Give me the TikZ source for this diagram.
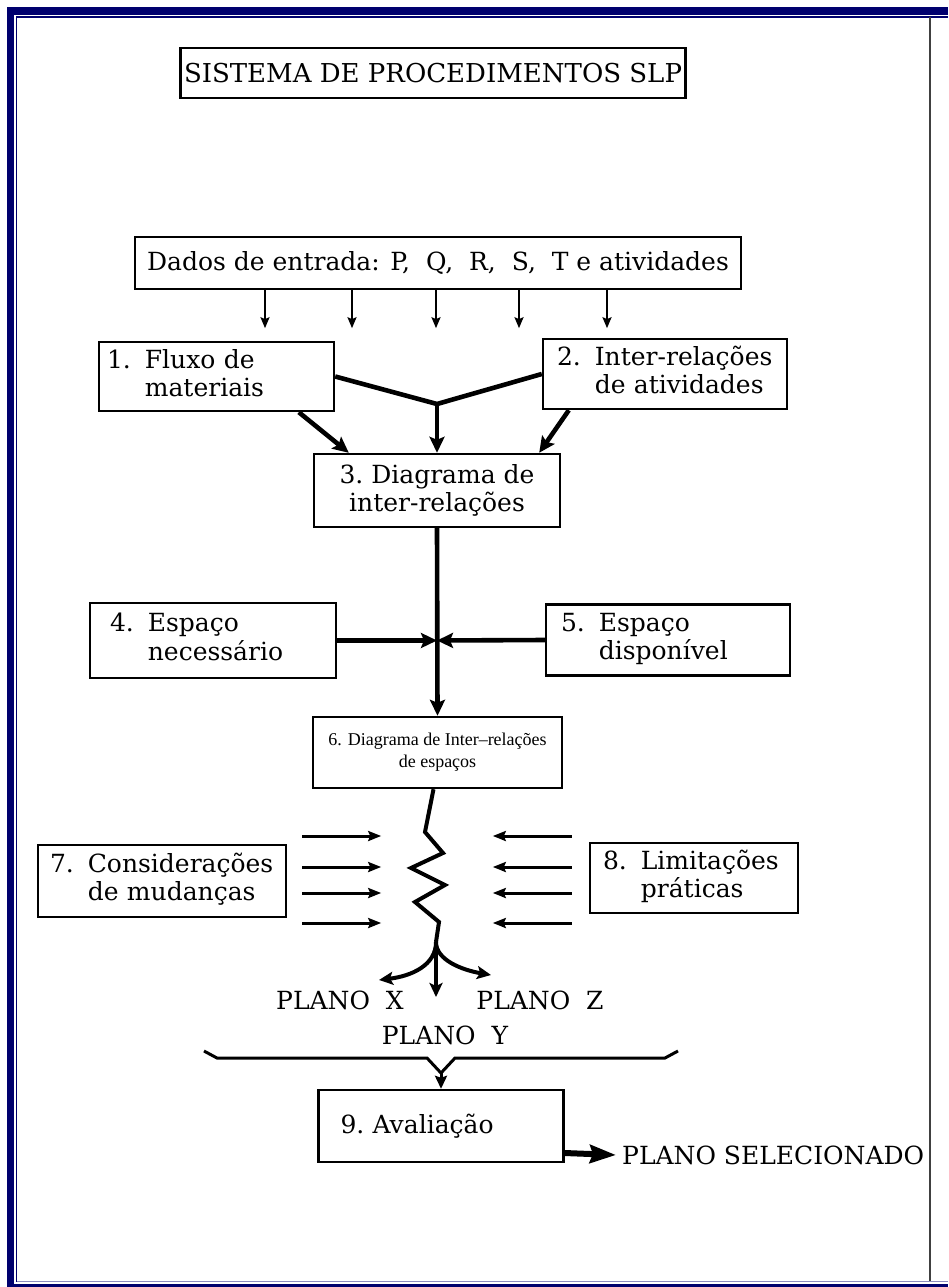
\documentclass[tikz,border=0pt]{standalone}
\usepackage{fontspec}
\setmainfont{DejaVu Serif}
\newfontfamily\timesfont{Liberation Serif}
\usetikzlibrary{arrows.meta,calc}
\definecolor{navyfr}{RGB}{0,0,110}
\newcommand{\numlines}[3]{\begin{tabular}{@{}l@{\hspace{14pt}}l@{}}#1.&#2\\&#3\end{tabular}}
\tikzset{bx/.style={draw, line width=2.4pt, inner ysep=0pt, align=left, font=\fontsize{25}{28}\selectfont},
         lbl/.style={font=\fontsize{25}{28}\selectfont, inner sep=0pt},
         thinarr/.style={line width=2.2pt, -{Stealth[length=11pt,width=9pt,inset=2pt]}},
         sidearr/.style={line width=3pt, -{Stealth[length=13pt,width=10pt,inset=2pt]}},
         thk/.style={line width=4.6pt},
         thkarr/.style={line width=4.6pt, -{Stealth[length=16pt,width=15pt,inset=3pt]}},
         splarr/.style={line width=4pt, -{Stealth[length=14pt,width=13pt,inset=3pt]}},
         bigarr/.style={line width=6pt, -{Stealth[length=26pt,width=18pt,inset=3pt]}}}

\begin{document}
\begin{tikzpicture}[x=1pt, y=-1pt]
  \useasboundingbox (0,0) rectangle (948,1287);

  % ---------- page frame ----------
  \fill[navyfr] (7,7) rectangle (948,15);
  \fill[navyfr] (7,7) rectangle (14,1287);
  \fill[navyfr] (7,1283.5) rectangle (948,1287);
  \draw[navyfr, line width=1.5pt] (948,17) -- (16.5,17) -- (16.5,1281.5);
  \draw[navyfr!45, line width=1.5pt] (16.5,1281.5) -- (948,1281.5);
  \draw[black!75, line width=2pt] (930,17) -- (930,1281);

  % ---------- boxes ----------
  \node[bx, minimum width=502pt, minimum height=50pt, align=center, font=\fontsize{26}{30}\selectfont] (titulo) at (433,73) {SISTEMA DE PROCEDIMENTOS SLP};
  \node[bx, minimum width=606pt, minimum height=52pt, align=center] (dados) at (438,263) {Dados de entrada: P,\ \ Q,\ \ R,\ \ S,\ \ T e atividades};

  \node[bx, text width=219pt, inner xsep=8pt, minimum height=69pt] (fluxo) at (216.5,376.5) {\numlines{1}{Fluxo de}{materiais}};
  \node[bx, text width=216pt, inner xsep=14pt, minimum height=70pt] (inter) at (665,374) {\numlines{2}{Inter-relações}{de atividades}};
  \node[bx, minimum width=246pt, minimum height=73pt, align=center] (diag) at (437,490.5) {3.\ Diagrama de\\inter-relações};

  \node[bx, text width=206pt, inner xsep=20pt, minimum height=75pt] (nec) at (213,640.5) {\numlines{4}{Espaço}{necessário}};
  \node[bx, text width=214pt, inner xsep=15pt, minimum height=71pt] (disp) at (668,640) {\numlines{5}{Espaço}{disponível}};
  \node[bx, minimum width=249pt, minimum height=71pt, align=center, font=\timesfont\fontsize{18}{22}\selectfont] (esp) at (437.5,752.5) {6. Diagrama de Inter–relações\\de espaços};

  \node[bx, text width=224pt, inner xsep=12pt, minimum height=72pt] (mud) at (162,881) {\numlines{7}{Considerações}{de mudanças}};
  \node[bx, text width=182pt, inner xsep=13pt, minimum height=70pt] (lim) at (694,878) {\numlines{8}{Limitações}{práticas}};
  \node[bx, text width=201pt, inner xsep=22pt, minimum height=72pt] (aval) at (441,1126) {9.\ Avaliação};

  % ---------- plan labels ----------
  \node[lbl] (planx) at (340,1000) {PLANO\ \ X};
  \node[lbl] (planz) at (540,1000) {PLANO\ \ Z};
  \node[lbl] (plany) at (445,1035) {PLANO\ \ Y};
  \node[lbl, inner xsep=6pt, anchor=west] (sel) at (616,1155) {PLANO SELECIONADO};

  % ---------- input data -> steps 1 and 2 ----------
  \foreach \x in {265,352,436,519,607}
    \draw[thinarr] (dados.south -| \x,0) -- ++(0,38);

  % ---------- 1, 2 -> 3 ----------
  \coordinate (j1) at (437,404);
  \draw[thk] (fluxo.east) -- (j1) -- (inter.west);
  \draw[thkarr] (j1) -- (j1 |- diag.north);
  \draw[thkarr] ($(fluxo.south west)+(201,0)$) -- ($(diag.north west)+(36,0)$);
  \draw[thkarr] ($(inter.south west)+(27,0)$) -- ($(diag.north east)+(-22,0)$);

  % ---------- 3, 4, 5 -> 6 ----------
  \coordinate (j2) at (diag.south |- nec.east);
  \draw[thkarr] (diag.south) -- (esp.north);
  \draw[thkarr] (nec.east) -- (j2);
  \draw[thkarr] (disp.west) -- (j2);

  % ---------- zigzag under 7 and 8 ----------
  \draw[line width=4pt] ($(esp.south)+(-4,0)$) -- (425,832) -- (443,853) -- (411,868) -- (445,885)
        -- (415,902) -- (439,922) -- (436,942) coordinate (split);
  \foreach \y in {836,867,893,923}{
    \draw[sidearr] ($(mud.east |- 0,\y)+(15,0)$) -- ++(79,0);
    \draw[sidearr] ($(lim.west |- 0,\y)+(-17,0)$) -- ++(-79,0);
  }

  % ---------- three plans ----------
  \coordinate (tipx) at (379,980);
  \coordinate (tipy) at (436,997);
  \coordinate (tipz) at (491,975);
  \draw[splarr] (split) .. controls (436,965) and (412,976) .. (tipx);
  \draw[splarr] (split) -- (tipy);
  \draw[splarr] (split) .. controls (436,960) and (462,970) .. (tipz);

  % ---------- brace -> 9 -> selected ----------
  \coordinate (brc) at (441,1073);
  \draw[line width=3pt] (204,1051) -- (217,1058) -- (427,1058) -- (brc) -- (455,1058) -- (665,1058) -- (678,1051);
  \draw[line width=3pt, -{Stealth[length=13pt,width=12pt,inset=2pt]}] (brc) -- (aval.north);
  \draw[bigarr] (aval.east |- 0,1153) -- (sel.west);

\end{tikzpicture}
\end{document}
